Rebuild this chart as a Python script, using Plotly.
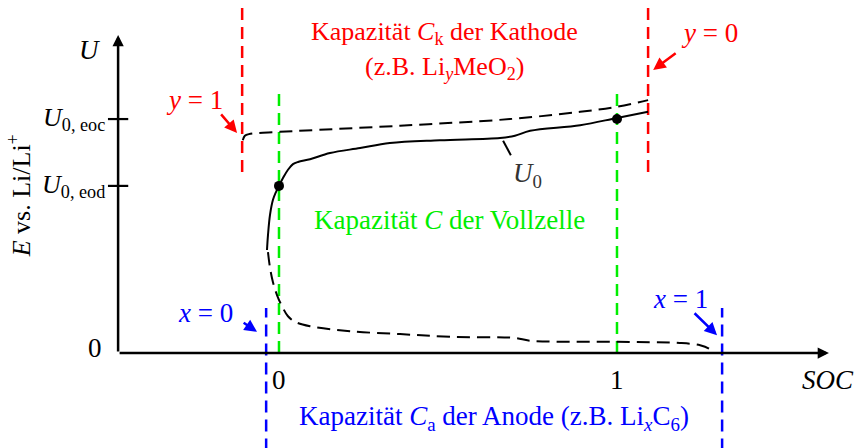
import plotly.graph_objects as go

# Open-circuit voltage schematic: full cell U0 between cathode and anode potentials
FONT = "Liberation Serif, Times New Roman, DejaVu Serif, serif"

# Potential levels (V vs. Li/Li+)
u_eoc = 4.2
u_eod = 3.0

# Cathode potential (dashed, upper)
cath_soc = [-0.107, -0.101, -0.089, 0.003, 0.358, 0.683, 0.891, 1.0, 1.092]
cath_u = [3.82, 3.90, 3.93, 3.97, 4.08, 4.20, 4.33, 4.42, 4.54]

# Full-cell open-circuit voltage U0 (solid)
u0_soc = [-0.0355, -0.0325, -0.0266, -0.0178, -0.0089, 0.0, 0.0118, 0.0266, 0.0414,
          0.0562, 0.0917, 0.151, 0.240, 0.328, 0.476, 0.654, 0.698, 0.743, 0.891, 1.0, 1.092]
u0_u = [1.85, 2.12, 2.48, 2.75, 2.89, 3.0, 3.14, 3.29, 3.39,
        3.43, 3.48, 3.59, 3.68, 3.77, 3.82, 3.86, 3.90, 3.99, 4.09, 4.22, 4.33]

# Anode potential (dashed, lower)
an_soc = [-0.0325, -0.0266, -0.0178, -0.0059, 0.0089, 0.0266, 0.0473, 0.0917, 0.210,
          0.358, 0.506, 0.698, 0.743, 1.0, 1.186, 1.246, 1.275, 1.287]
an_u = [1.81, 1.53, 1.27, 1.04, 0.84, 0.66, 0.56, 0.48, 0.39,
        0.34, 0.29, 0.27, 0.22, 0.20, 0.18, 0.14, 0.07, 0.0]

# Capacity boundaries on the SOC axis
cath_bounds = [-0.109, 1.092]   # y = 1, y = 0
cell_bounds = [0.0, 1.0]        # SOC 0, SOC 1
anode_bounds = [-0.038, 1.311]  # x = 0, x = 1

# Vertical extent of each boundary line
cath_span = [3.25, 6.22]
cell_span = [0.0, 4.76]
anode_span = [-1.75, 0.81]

# Axis geometry
x_axis_origin = -0.476
x_axis_end = 1.627
y_axis_end = 5.71
tick_half = 0.03

x_range = [-0.8254, 1.7219]
y_range = [-1.7056, 6.3375]

RED = "#ff0000"
GREEN = "#00ee00"
BLUE = "#0000ff"

fig = go.Figure()

# capacity boundary lines
for xs, span, col in [(cath_bounds, cath_span, RED),
                      (cell_bounds, cell_span, GREEN),
                      (anode_bounds, anode_span, BLUE)]:
    for xv in xs:
        fig.add_trace(go.Scatter(x=[xv, xv], y=span, mode="lines",
                                 line=dict(color=col, width=2.5, dash="12px,7px"),
                                 hoverinfo="skip", showlegend=False))

# electrode potentials and full cell voltage
fig.add_trace(go.Scatter(x=cath_soc, y=cath_u, mode="lines",
                         line=dict(color="black", width=2, dash="13px,7px", shape="spline"),
                         showlegend=False))
fig.add_trace(go.Scatter(x=an_soc, y=an_u, mode="lines",
                         line=dict(color="black", width=2, dash="13px,7px", shape="spline"),
                         showlegend=False))
fig.add_trace(go.Scatter(x=u0_soc, y=u0_u, mode="lines",
                         line=dict(color="black", width=2, shape="spline"),
                         showlegend=False))

# end-of-discharge / end-of-charge points
fig.add_trace(go.Scatter(x=cell_bounds, y=[u_eod, u_eoc], mode="markers",
                         marker=dict(color="black", size=10), showlegend=False))

# y-axis ticks
for uv in [u_eoc, u_eod]:
    fig.add_trace(go.Scatter(x=[x_axis_origin - tick_half, x_axis_origin + tick_half],
                             y=[uv, uv], mode="lines",
                             line=dict(color="black", width=2.2), showlegend=False))

# U0 leader line
fig.add_trace(go.Scatter(x=[0.663, 0.686], y=[3.81, 3.55], mode="lines",
                         line=dict(color="black", width=2), showlegend=False))

annotations = []

# axes with arrow heads
for (x0, y0, x1, y1) in [(x_axis_origin, 0, x_axis_end, 0),
                         (x_axis_origin, 0, x_axis_origin, y_axis_end)]:
    annotations.append(dict(x=x1, y=y1, ax=x0, ay=y0, xref="x", yref="y",
                            axref="x", ayref="y", showarrow=True, arrowhead=2,
                            arrowsize=0.9, arrowwidth=2.5, arrowcolor="black", text=""))

def label(x, y, text, color="black", size=27, xanchor="center", angle=0):
    annotations.append(dict(x=x, y=y, xref="x", yref="y", text=text, showarrow=False,
                            xanchor=xanchor, yanchor="middle", textangle=angle,
                            font=dict(family=FONT, size=size, color=color)))

def pointer(x0, y0, x1, y1, color):
    annotations.append(dict(x=x1, y=y1, ax=x0, ay=y0, xref="x", yref="y",
                            axref="x", ayref="y", showarrow=True, arrowhead=2,
                            arrowsize=1.0, arrowwidth=2.5, arrowcolor=color, text=""))

label(-0.562, 5.44, "<i>U</i>")
label(-0.509, u_eoc, "<i>U</i><sub>0, eoc</sub>", xanchor="right", size=26)
label(-0.509, u_eod, "<i>U</i><sub>0, eod</sub>", xanchor="right", size=26)
label(-0.544, 0.09, "0")
label(0.0, -0.485, "0")
label(1.0, -0.485, "1")
label(1.624, -0.485, "<i>SOC</i>")
label(-0.765, 2.82, "<i>E</i> vs. Li/Li<sup>+</sup>", angle=-90, size=26)
label(0.734, 3.20, "<i>U</i><sub>0</sub>", color="#333333")

label(0.491, 5.74, "Kapazität <i>C</i><sub>k</sub> der Kathode", color=RED, size=26)
label(0.491, 5.11, "(z.B. Li<sub><i>y</i></sub>MeO<sub>2</sub>)", color=RED, size=26)
label(0.503, 2.39, "Kapazität <i>C</i> der Vollzelle", color=GREEN)
label(0.636, -1.17, "Kapazität <i>C</i><sub>a</sub> der Anode (z.B. Li<sub><i>x</i></sub>C<sub>6</sub>)", color=BLUE)

label(-0.251, 4.54, "<i>y</i> = 1", color=RED)
pointer(-0.175, 4.31, -0.124, 3.95, RED)
label(1.275, 5.75, "<i>y</i> = 0", color=RED)
pointer(1.178, 5.40, 1.107, 5.08, RED)
label(-0.216, 0.72, "<i>x</i> = 0", color=BLUE)
pointer(-0.109, 0.56, -0.065, 0.38, BLUE)
label(1.189, 0.97, "<i>x</i> = 1", color=BLUE)
pointer(1.225, 0.74, 1.296, 0.32, BLUE)

fig.update_layout(
    width=861, height=448,
    margin=dict(l=0, r=0, t=0, b=0),
    paper_bgcolor="white", plot_bgcolor="white",
    font=dict(family=FONT),
    xaxis=dict(range=x_range, visible=False, fixedrange=True),
    yaxis=dict(range=y_range, visible=False, fixedrange=True),
    annotations=annotations,
    showlegend=False,
)

fig.write_html("out.html")
